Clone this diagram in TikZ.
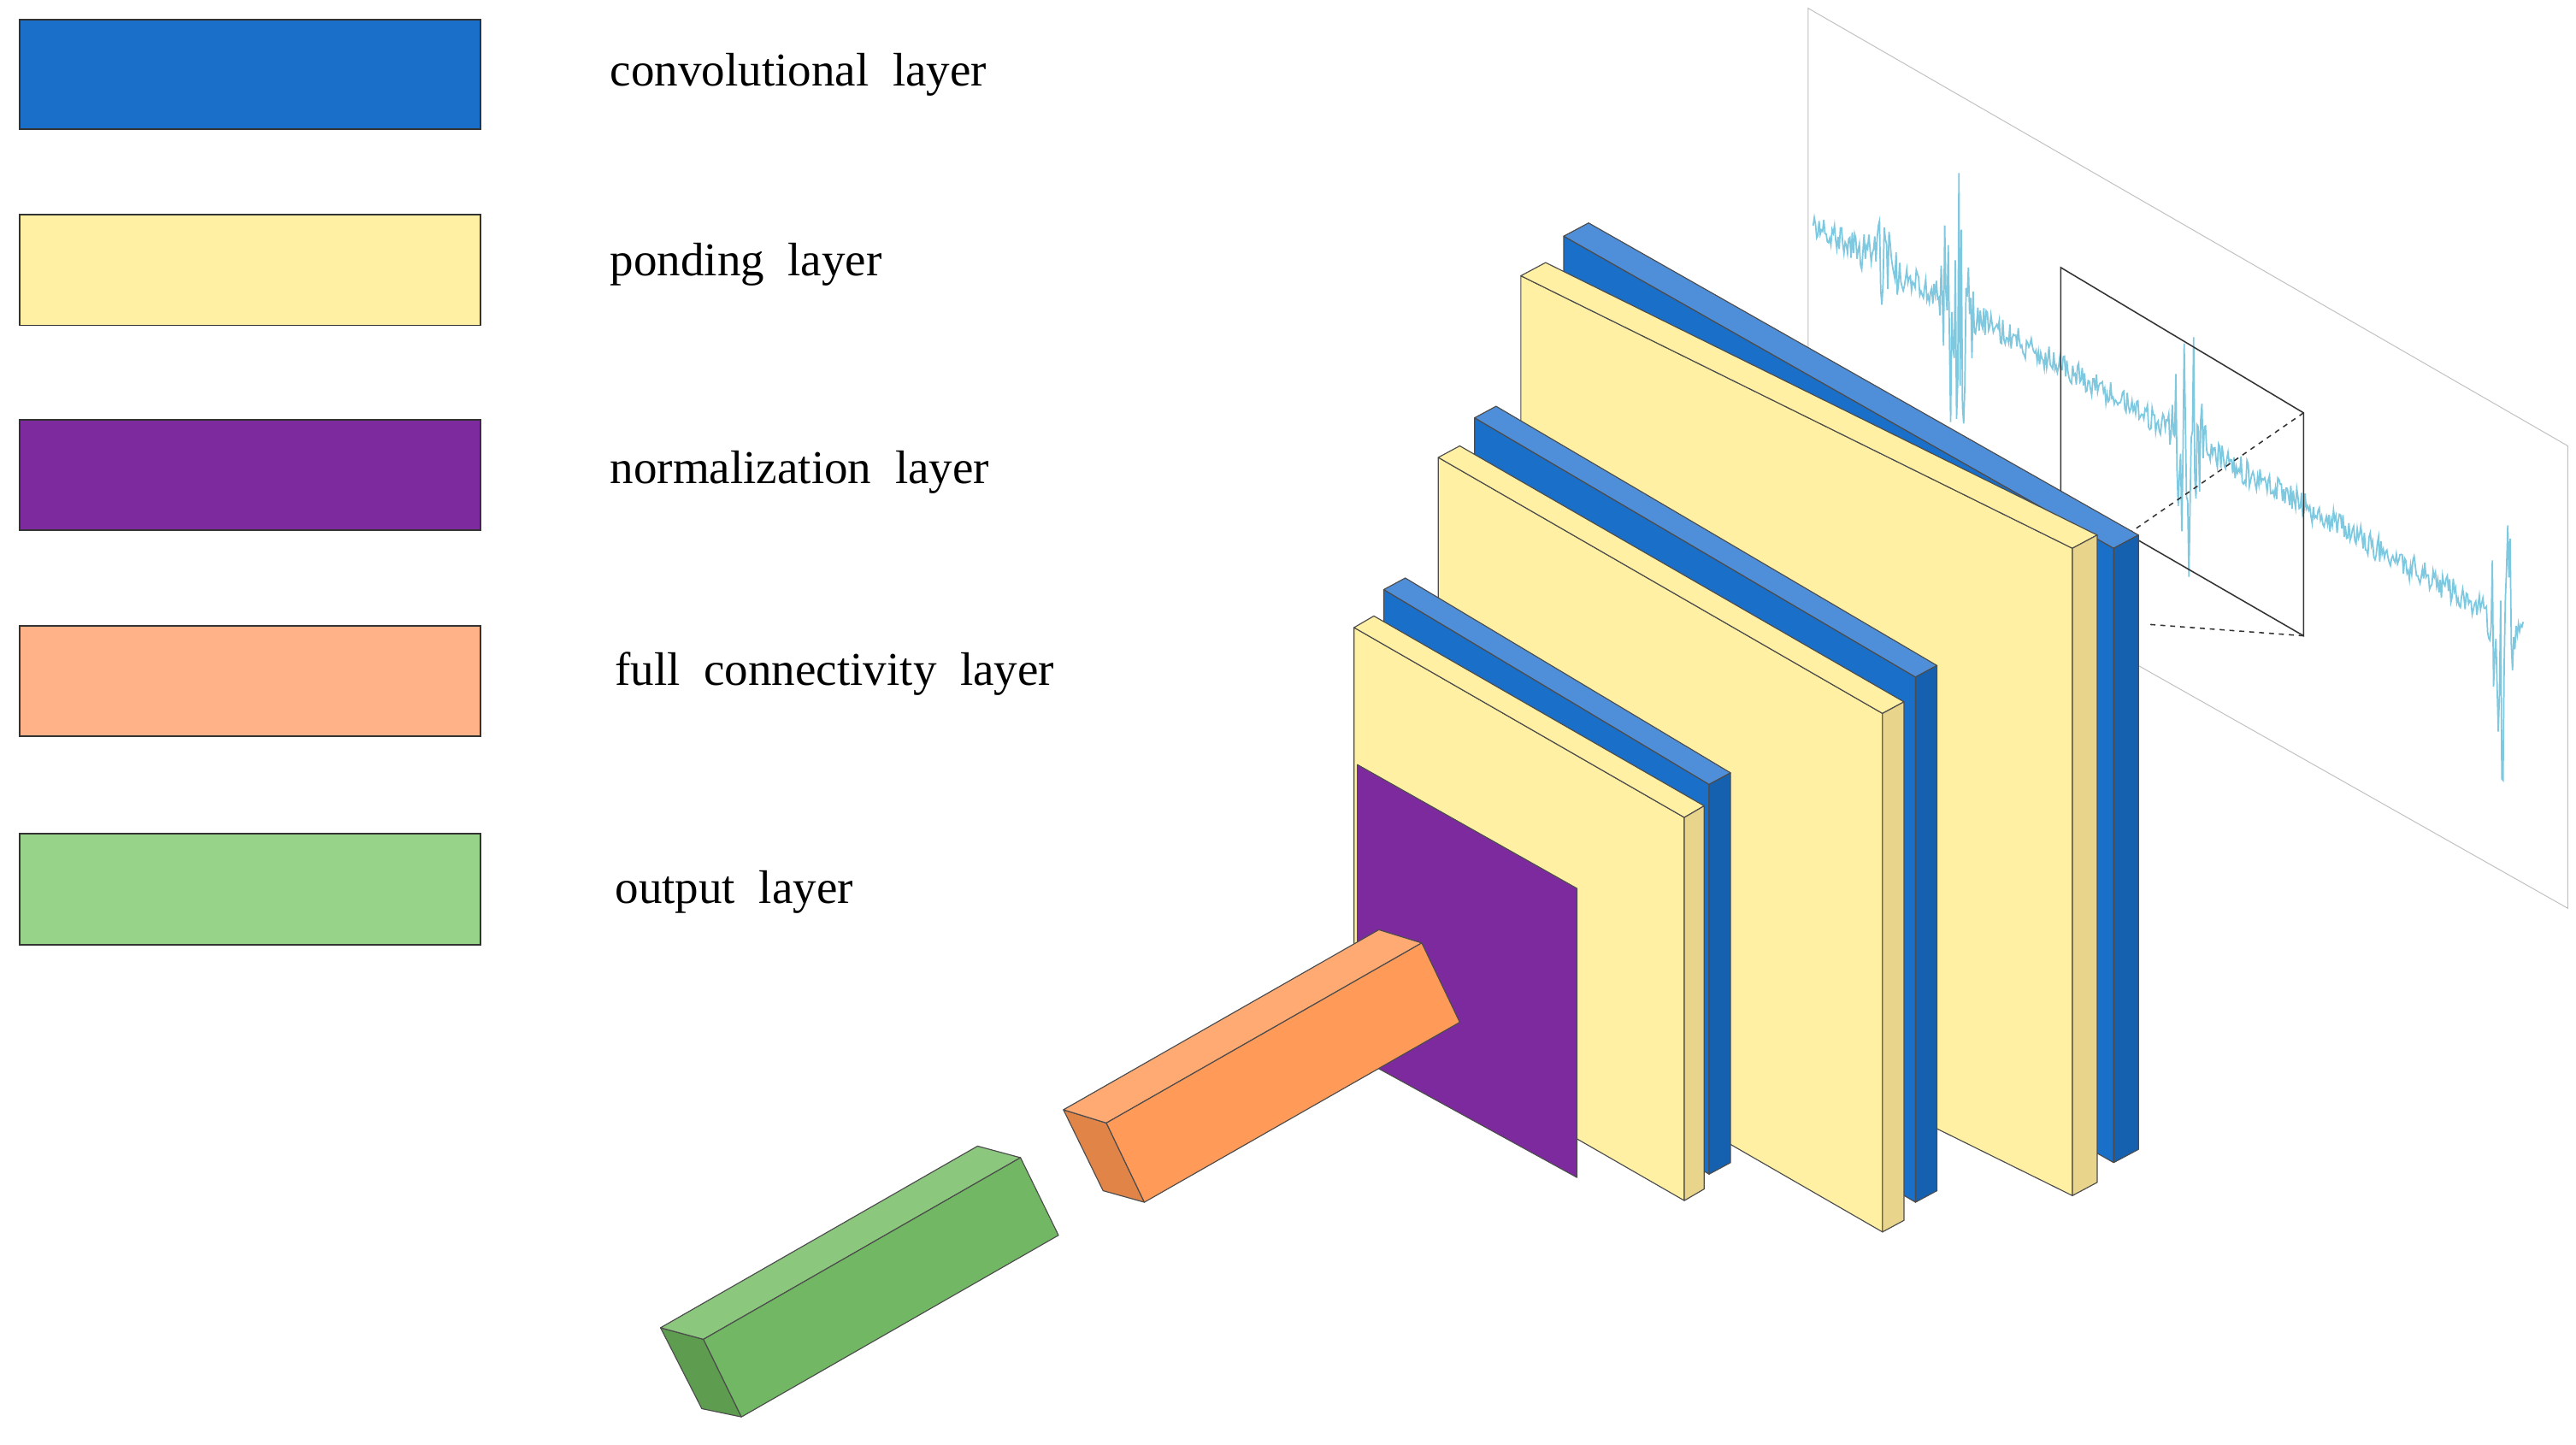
\documentclass[tikz,border=0pt]{standalone}
\usepackage{fontspec}
\setmainfont{Liberation Serif}
\begin{document}
\definecolor{cblue}{HTML}{1A6FC9}
\definecolor{cblueT}{HTML}{4F8FDA}
\definecolor{cblueS}{HTML}{1660B0}
\definecolor{cyel}{HTML}{FFF0A3}
\definecolor{cyelS}{HTML}{E8D48A}
\definecolor{cpur}{HTML}{7E2A9F}
\definecolor{cora}{HTML}{FF9A58}
\definecolor{coraL}{HTML}{FFB187}
\definecolor{coraT}{HTML}{FFAA72}
\definecolor{coraD}{HTML}{E08448}
\definecolor{cgrn}{HTML}{72B864}
\definecolor{cgrnL}{HTML}{98D38A}
\definecolor{cgrnT}{HTML}{8CC77E}
\definecolor{cgrnD}{HTML}{5E9C50}
\definecolor{sig}{HTML}{7EC8E0}
\begin{tikzpicture}[x=1pt,y=-1pt,
  leg/.style={draw=black!80,line width=1pt},
  lab/.style={anchor=west,font=\fontsize{28.5}{32}\selectfont},
  edge/.style={draw=black!70,line width=0.6pt,line join=round}]
\useasboundingbox (0,0) rectangle (1560,875);
% signal plot
\draw[black!25,line width=0.5pt] (1095,5) -- (1555,270) -- (1555,550) -- (1095,290) -- cycle;
\pgfmathsetseed{7}
\draw[sig,line width=0.9pt] plot[domain=1098:1528,samples=600]
 (\x,{135+(\x-1098)*0.576+rand*(8+95*max(0,1-abs((\x-1185)/12))+80*max(0,1-abs((\x-1325)/12))+100*max(0,1-abs((\x-1515)/10))+20*max(0,1-abs((\x-1140)/15)))});
% window
\draw[black!80,line width=0.8pt] (1248,162) -- (1395,250) -- (1395,385) -- (1248,300) -- cycle;
\draw[black!80,dashed,line width=0.8pt] (1248,300) -- (1290,330);
\draw[black!80,dashed,line width=0.8pt] (1395,250) -- (1282,328);
\draw[black!80,dashed,line width=0.8pt] (1395,385) -- (1300,378);
\newcommand{\plateB}[7]{\fill[cblue,edge] (#1,#2) -- (#3,#4) -- ++(0,#5) -- (#1,{#2+#5}) -- cycle;
 \fill[cblueT,edge] (#1,#2) -- (#3,#4) -- ++(#6,#7) -- ({#1+#6},{#2+#7}) -- cycle;
 \fill[cblueS,edge] (#3,#4) -- ++(#6,#7) -- ++(0,#5) -- ++(-#6,-#7) -- cycle;}
\newcommand{\plateY}[7]{\fill[cyel,edge] (#1,#2) -- (#3,#4) -- ++(0,#5) -- (#1,{#2+#5}) -- cycle;
 \fill[cyel,edge] (#1,#2) -- (#3,#4) -- ++(#6,#7) -- ({#1+#6},{#2+#7}) -- cycle;
 \fill[cyelS,edge] (#3,#4) -- ++(#6,#7) -- ++(0,#5) -- ++(-#6,-#7) -- cycle;}
\plateB{947}{143}{1280}{332}{372}{15}{-8}
\plateY{921}{167}{1255}{332}{392}{15}{-8}
\plateB{893}{253}{1160}{410}{318}{13}{-7}
\plateY{871}{277}{1140}{432}{314}{13}{-7}
\plateB{838}{357}{1035}{475}{236}{13}{-7}
\plateY{820}{380}{1020}{495}{232}{12}{-7}
% purple
\fill[cpur,edge] (822,463) -- (955,538) -- (955,713) -- (822,640) -- cycle;
% orange bar
\fill[coraD,edge] (644,672) -- (670,680) -- (693,728) -- (668,721) -- cycle;
\fill[coraT,edge] (644,672) -- (670,680) -- ++(191,-109) -- (835,563) -- cycle;
\fill[cora,edge] (670,680) -- (693,728) -- ++(191,-109) -- (861,571) -- cycle;
% green bar
\fill[cgrnD,edge] (400,804) -- (426,811) -- (449,858) -- (425,853) -- cycle;
\fill[cgrnT,edge] (400,804) -- (426,811) -- ++(192,-110) -- (592,694) -- cycle;
\fill[cgrn,edge] (426,811) -- (449,858) -- ++(192,-110) -- (618,701) -- cycle;
% legend
\fill[cblue,leg] (12,12) rectangle (291,78);
\fill[cyel,leg] (12,130) rectangle (291,197);
\fill[cpur,leg] (12,254) rectangle (291,321);
\fill[coraL,leg] (12,379) rectangle (291,446);
\fill[cgrnL,leg] (12,505) rectangle (291,572);
\node[lab] (l1) at (366,45) {convolutional\ \ layer};
\node[lab] (l2) at (366,160) {ponding\ \ layer};
\node[lab] (l3) at (366,286) {normalization\ \ layer};
\node[lab] (l4) at (369,408) {full\ \ connectivity\ \ layer};
\node[lab] (l5) at (369,540) {output\ \ layer};
\end{tikzpicture}
\end{document}
